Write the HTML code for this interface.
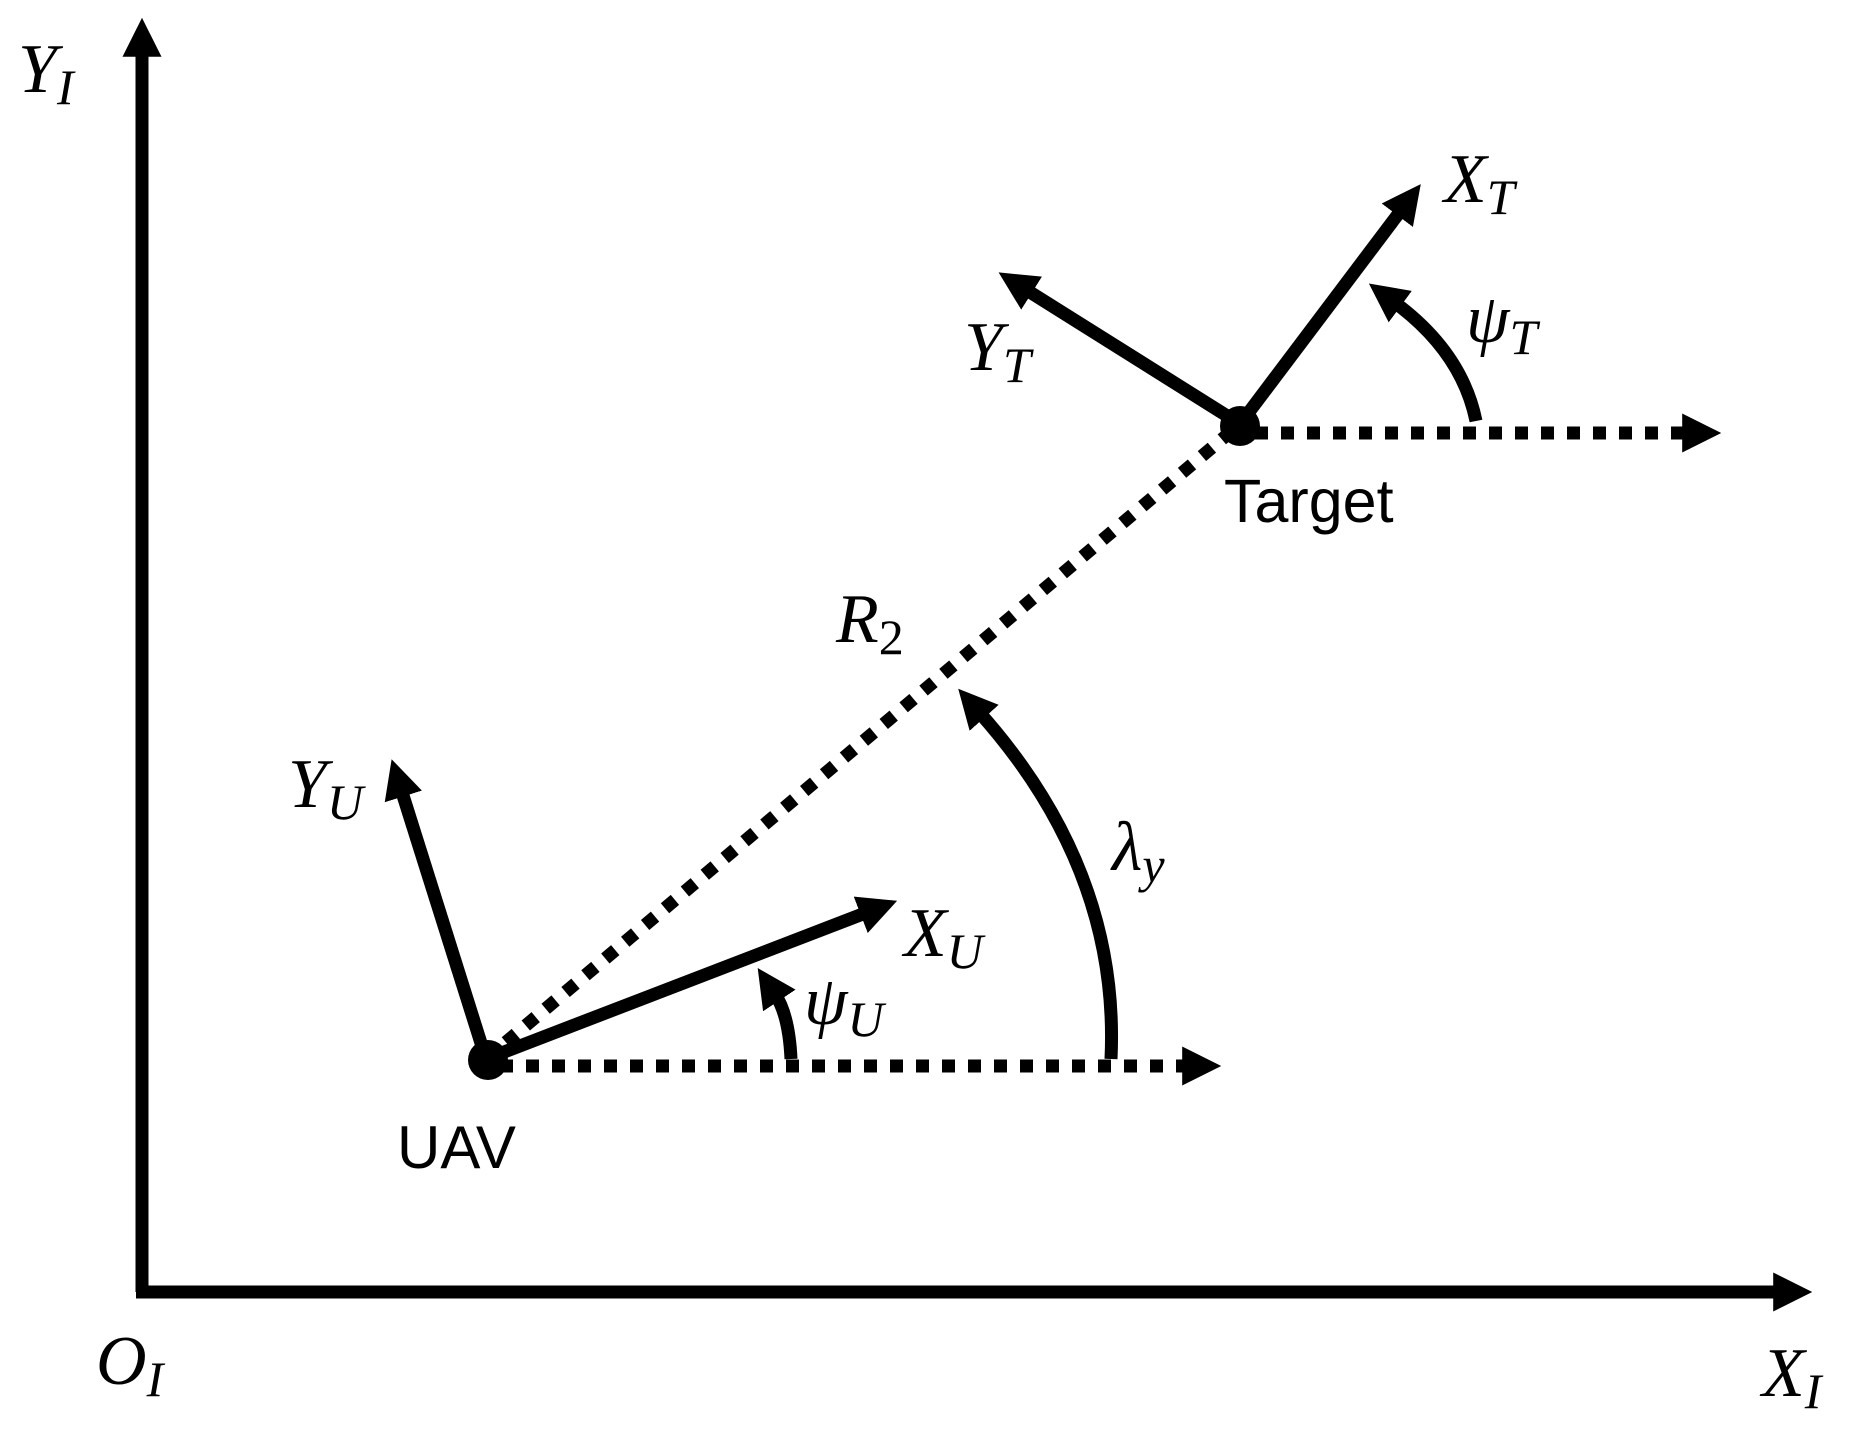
<!DOCTYPE html>
<html><head><style>body{margin:0;background:#fff}svg{display:block}
.m{font-family:"Liberation Serif",serif;font-style:italic;fill:#000}
.s{font-family:"Liberation Sans",sans-serif;fill:#000}</style></head>
<body>
<svg width="1859" height="1434" viewBox="0 0 1859 1434" xmlns="http://www.w3.org/2000/svg">
<defs>
<marker id="a" markerWidth="3" markerHeight="3" refX="0.6" refY="1.5" orient="auto" markerUnits="strokeWidth"><path d="M0,0 L3,1.5 L0,3 Z" fill="#000"/></marker>
</defs>
<g stroke="#000" fill="none">
<line x1="142" y1="1292" x2="142" y2="49" stroke-width="13" marker-end="url(#a)"/>
<line x1="136" y1="1292" x2="1781" y2="1292" stroke-width="13" marker-end="url(#a)"/>
<line x1="486" y1="1059" x2="1240" y2="424" stroke-width="13" stroke-dasharray="13 13"/>
<line x1="500" y1="1066" x2="1190" y2="1066" stroke-width="13" stroke-dasharray="13 13" marker-end="url(#a)"/>
<line x1="1255" y1="433" x2="1690" y2="433" stroke-width="13" stroke-dasharray="13 13" marker-end="url(#a)"/>
<line x1="486" y1="1059" x2="868" y2="912" stroke-width="13" marker-end="url(#a)"/>
<line x1="486" y1="1059" x2="401" y2="789" stroke-width="13" marker-end="url(#a)"/>
<line x1="1240" y1="424" x2="1402" y2="209" stroke-width="13" marker-end="url(#a)"/>
<line x1="1240" y1="424" x2="1025" y2="289" stroke-width="13" marker-end="url(#a)"/>
<path d="M791,1059 Q789,1015 775,994" stroke-width="13" marker-end="url(#a)"/>
<path d="M1111,1059 Q1120,870 979,712" stroke-width="13" marker-end="url(#a)"/>
<path d="M1476,421 Q1462,352 1394,302" stroke-width="13" marker-end="url(#a)"/>
</g>
<circle cx="488" cy="1060" r="20" fill="#000"/>
<circle cx="1240" cy="426" r="20" fill="#000"/>
<text class="m" x="18" y="92" font-size="70">Y<tspan font-size="50" dy="12">I</tspan></text>
<text class="m" x="96" y="1384" font-size="70">O<tspan font-size="50" dy="12">I</tspan></text>
<text class="m" x="1762" y="1396" font-size="70">X<tspan font-size="50" dy="12">I</tspan></text>
<text class="m" x="1444" y="202" font-size="70">X<tspan font-size="50" dy="12">T</tspan></text>
<text class="m" x="964" y="370" font-size="70">Y<tspan font-size="50" dy="12">T</tspan></text>
<text class="m" x="1466" y="342" font-size="70">ψ<tspan font-size="50" dy="12">T</tspan></text>
<text class="m" x="836" y="642" font-size="70">R<tspan font-size="50" dy="12" font-style="normal">2</tspan></text>
<text class="m" x="1112" y="870" font-size="70">λ<tspan font-size="50" dy="12">y</tspan></text>
<text class="m" x="288" y="807" font-size="70">Y<tspan font-size="50" dy="12">U</tspan></text>
<text class="m" x="904" y="956" font-size="70">X<tspan font-size="50" dy="12">U</tspan></text>
<text class="m" x="804" y="1024" font-size="70">ψ<tspan font-size="50" dy="12">U</tspan></text>
<text class="s" x="1224" y="522" font-size="61">Target</text>
<text class="s" x="397" y="1168" font-size="60">UAV</text>
</svg>
</body></html>
